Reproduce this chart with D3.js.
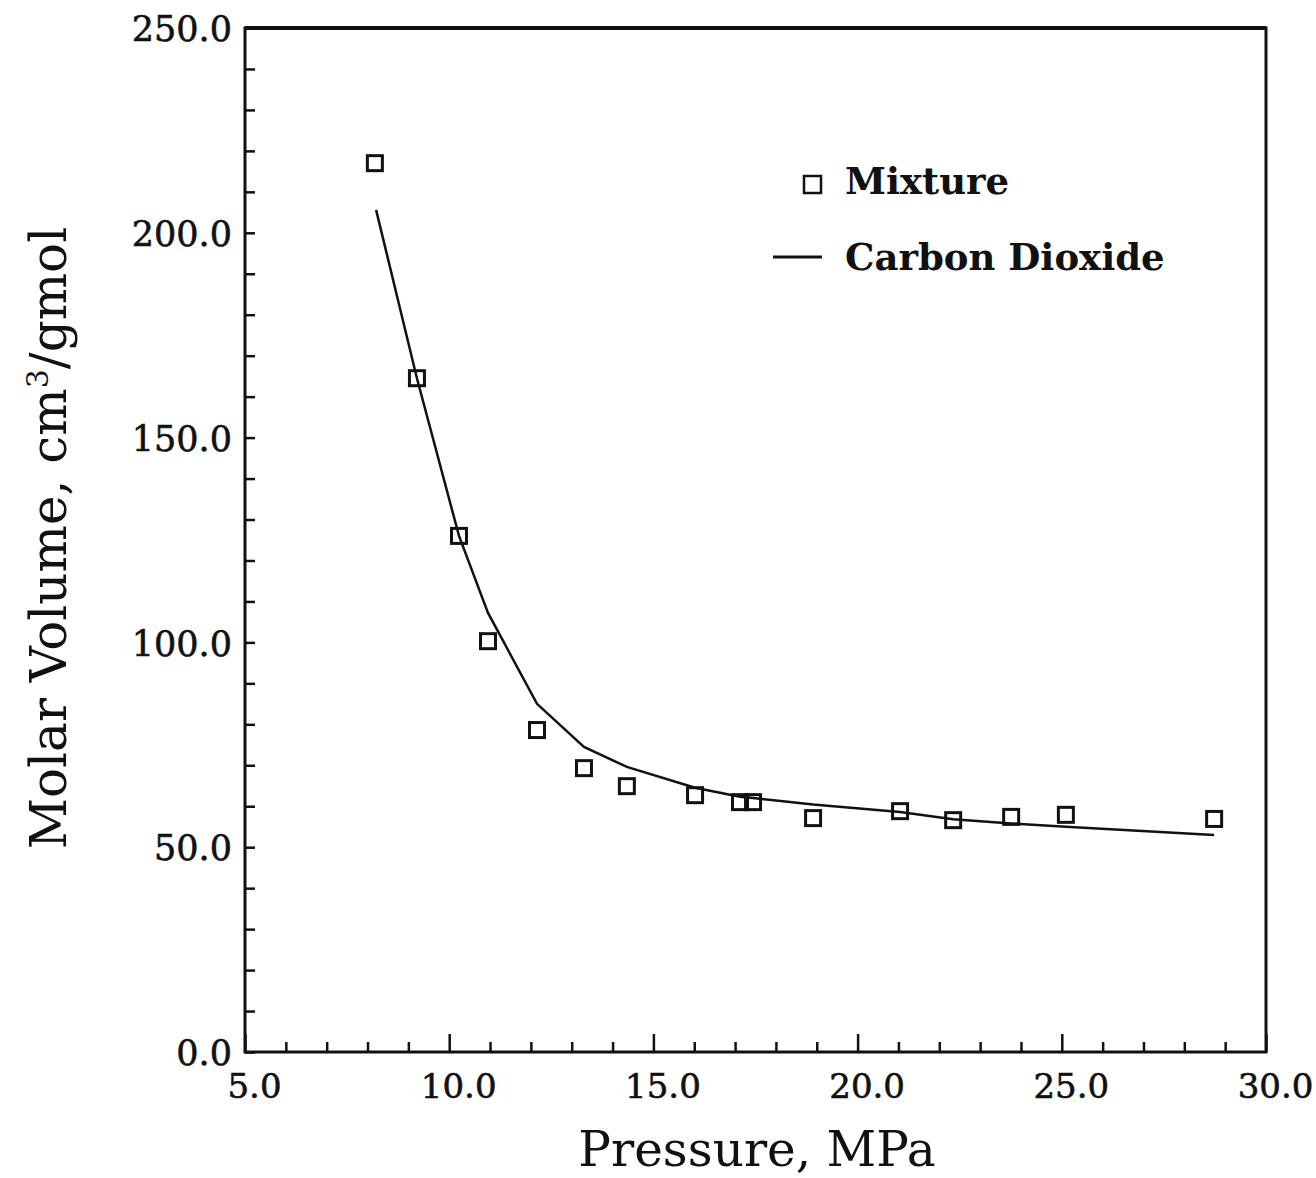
<!DOCTYPE html>
<html>
<head>
<meta charset="utf-8">
<script src="https://cdn.jsdelivr.net/npm/d3@7"></script>
<style>
  html, body { margin: 0; padding: 0; background: #fff; }
  svg { display: block; }
  text { font-family: "DejaVu Serif", "Liberation Serif", serif; fill: #111; }
</style>
</head>
<body>
<svg id="chart" width="1316" height="1178"></svg>
<script>
// ---- data ----
const mixturePressure = [8.18, 9.21, 10.24, 10.95, 12.15, 13.30, 14.35, 16.02, 17.12, 17.44, 18.91, 21.04, 22.34, 23.76, 25.10, 28.73];
const mixtureVolume   = [217.0, 164.5, 126.0, 100.3, 78.6, 69.3, 64.9, 62.7, 61.0, 61.0, 57.1, 58.8, 56.6, 57.4, 57.9, 56.9];
const co2Pressure     = [8.21, 9.21, 10.24, 10.95, 12.15, 13.30, 14.35, 16.02, 17.12, 17.44, 18.91, 21.04, 22.34, 23.76, 25.10, 28.73];
const co2Volume       = [205.6, 164.5, 126.0, 107.2, 85.0, 74.5, 69.6, 64.5, 62.3, 62.0, 60.4, 58.6, 56.8, 55.8, 55.0, 53.0];
const xMajorTicks = [5, 10, 15, 20, 25, 30];
const xMinorTicks = d3.range(6, 30, 1).filter(v => v % 5 !== 0);
const yMajorTicks = [0, 50, 100, 150, 200, 250];
const yMinorTicks = d3.range(10, 250, 10).filter(v => v % 50 !== 0);
const legendLabels = ["Mixture", "Carbon Dioxide"];
const xTitle = "Pressure, MPa";

// ---- layout ----
const svg = d3.select("#chart");
const L = 245, R = 1266, T = 28, B = 1052;
const x = d3.scaleLinear().domain([5, 30]).range([L, R]);
const y = d3.scaleLinear().domain([0, 250]).range([B, T]);
const fmt = d3.format(".1f");

// frame
svg.append("rect").attr("x", L).attr("y", T).attr("width", R - L).attr("height", B - T)
  .attr("fill", "none").attr("stroke", "#111").attr("stroke-width", 3);
svg.append("line").attr("x1", L).attr("x2", R).attr("y1", T).attr("y2", T)
  .attr("stroke", "#111").attr("stroke-width", 4);

// x ticks
const gxMinor = svg.append("g").attr("transform", `translate(0,${B})`)
  .call(d3.axisBottom(x).tickValues(xMinorTicks).tickSize(-10).tickFormat(""));
const gxMajor = svg.append("g").attr("transform", `translate(0,${B})`)
  .call(d3.axisBottom(x).tickValues(xMajorTicks).tickSize(-18).tickPadding(40).tickFormat(fmt));
// y ticks
const gyMinor = svg.append("g").attr("transform", `translate(${L},0)`)
  .call(d3.axisLeft(y).tickValues(yMinorTicks).tickSize(-10).tickFormat(""));
const gyMajor = svg.append("g").attr("transform", `translate(${L},0)`)
  .call(d3.axisLeft(y).tickValues(yMajorTicks).tickSize(-10).tickPadding(13).tickFormat(fmt));

[gxMinor, gxMajor, gyMinor, gyMajor].forEach(g => {
  g.select(".domain").remove();
  g.selectAll(".tick line").attr("stroke", "#111").attr("stroke-width", 2.5);
});
gxMajor.selectAll(".tick text")
  .attr("x", 9).attr("dy", 0).attr("y", 46)
  .style("font-size", "34px").style("font-family", "DejaVu Serif")
  .attr("fill", "#111").attr("stroke", "#111").attr("stroke-width", 0.6);
gyMajor.selectAll(".tick text")
  .attr("dy", "0.36em")
  .style("font-size", "35px").style("font-family", "DejaVu Serif")
  .attr("fill", "#111").attr("stroke", "#111").attr("stroke-width", 0.6);

// axis titles
svg.append("text").attr("x", 757).attr("y", 1166).attr("text-anchor", "middle")
  .style("font-size", "48.5px").text(xTitle);
const yt = svg.append("text").attr("transform", "translate(66,538) rotate(-90)")
  .attr("text-anchor", "middle").style("font-size", "50px");
yt.append("tspan").text("Molar Volume, cm");
yt.append("tspan").attr("dy", -18).style("font-size", "30px").text("3");
yt.append("tspan").attr("dy", 18).text("/gmol");

// CO2 line
const line = d3.line().x(d => x(d[0])).y(d => y(d[1]));
svg.append("path").datum(d3.zip(co2Pressure, co2Volume))
  .attr("d", line).attr("fill", "none").attr("stroke", "#111").attr("stroke-width", 2.5);

// mixture squares
const s = 15;
svg.append("g").selectAll("rect").data(d3.zip(mixturePressure, mixtureVolume)).join("rect")
  .attr("x", d => x(d[0]) - s / 2).attr("y", d => y(d[1]) - s / 2)
  .attr("width", s).attr("height", s)
  .attr("fill", "none").attr("stroke", "#111").attr("stroke-width", 3);

// legend
const lg = svg.append("g");
lg.append("rect").attr("x", 804).attr("y", 176).attr("width", 17).attr("height", 17)
  .attr("fill", "none").attr("stroke", "#111").attr("stroke-width", 2.5);
lg.append("text").attr("x", 845).attr("y", 194).style("font-size", "37px")
  .style("font-weight", "bold").text(legendLabels[0]);
lg.append("line").attr("x1", 773).attr("x2", 822).attr("y1", 257).attr("y2", 257)
  .attr("stroke", "#111").attr("stroke-width", 3);
lg.append("text").attr("x", 845).attr("y", 270).style("font-size", "37px")
  .style("font-weight", "bold").text(legendLabels[1]);
</script>
</body>
</html>
